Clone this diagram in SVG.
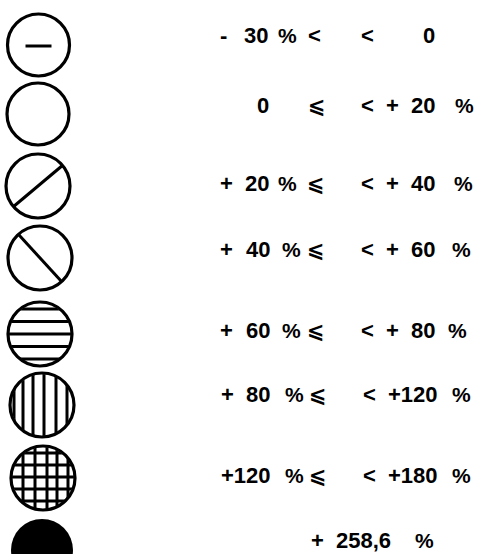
<svg xmlns="http://www.w3.org/2000/svg" width="482" height="554" viewBox="0 0 482 554">
<style>
.ring{fill:none;stroke:#000;stroke-width:3.2}
.hatch{stroke:#000;stroke-width:3;fill:none}
.t{font-family:"Liberation Sans",Arial,sans-serif;font-weight:bold;font-size:22px;fill:#000}
.p{font-family:"Liberation Sans",Arial,sans-serif;font-weight:bold;font-size:21px;fill:#000}
.le{font-family:"DejaVu Sans","Liberation Sans",sans-serif;font-weight:bold;font-size:21px;fill:#000}
</style>
<defs>
<clipPath id="c"><circle cx="0" cy="0" r="31"/></clipPath>
</defs>
<g id="connectors"/>
<g id="sym1" transform="translate(38.5,45)">
<line class="hatch" x1="-13" y1="1" x2="13" y2="1"/>
<circle class="ring" r="31"/>
</g>
<g id="sym2" transform="translate(38,114)">
<circle class="ring" r="31"/>
</g>
<g id="sym3" transform="translate(38,186)">
<line class="hatch" x1="-25" y1="21" x2="25" y2="-21"/>
<circle class="ring" r="32"/>
</g>
<g id="sym4" transform="translate(40,258)">
<line class="hatch" x1="-21" y1="-23" x2="22" y2="24"/>
<circle class="ring" r="32"/>
</g>
<g id="sym5" transform="translate(40,334)">
<g clip-path="url(#c)">
<line class="hatch" x1="-32" y1="-25" x2="32" y2="-25"/>
<line class="hatch" x1="-32" y1="-12.5" x2="32" y2="-12.5"/>
<line class="hatch" x1="-32" y1="0" x2="32" y2="0"/>
<line class="hatch" x1="-32" y1="12.5" x2="32" y2="12.5"/>
<line class="hatch" x1="-32" y1="25" x2="32" y2="25"/>
</g>
<circle class="ring" r="32"/>
</g>
<g id="sym6" transform="translate(42,405)">
<g clip-path="url(#c)">
<line class="hatch" x1="-28" y1="-32" x2="-28" y2="32"/>
<line class="hatch" x1="-19" y1="-32" x2="-19" y2="32"/>
<line class="hatch" x1="-9" y1="-32" x2="-9" y2="32"/>
<line class="hatch" x1="2" y1="-32" x2="2" y2="32"/>
<line class="hatch" x1="14" y1="-32" x2="14" y2="32"/>
<line class="hatch" x1="25" y1="-32" x2="25" y2="32"/>
</g>
<circle class="ring" r="32"/>
</g>
<g id="sym7" transform="translate(43,478)">
<g clip-path="url(#c)">
<line class="hatch" x1="-20" y1="-32" x2="-20" y2="32"/>
<line class="hatch" x1="-8" y1="-32" x2="-8" y2="32"/>
<line class="hatch" x1="4" y1="-32" x2="4" y2="32"/>
<line class="hatch" x1="14" y1="-32" x2="14" y2="32"/>
<line class="hatch" x1="25" y1="-32" x2="25" y2="32"/>
<line class="hatch" x1="-32" y1="-25" x2="32" y2="-25"/>
<line class="hatch" x1="-32" y1="-13" x2="32" y2="-13"/>
<line class="hatch" x1="-32" y1="-1" x2="32" y2="-1"/>
<line class="hatch" x1="-32" y1="11" x2="32" y2="11"/>
<line class="hatch" x1="-32" y1="23" x2="32" y2="23"/>
</g>
<circle class="ring" r="32" stroke-width="3.8"/>
</g>
<g id="sym8">
<circle cx="42" cy="550" r="31" fill="#000"/>
</g>
<g id="label1">
<text class="t" x="220" y="43">-</text>
<text class="t" x="244" y="43">30</text>
<text class="p" x="278" y="43">%</text>
<text class="t" x="308" y="43">&lt;</text>
<text class="t" x="361" y="43">&lt;</text>
<text class="t" x="423" y="43">0</text>
</g>
<g id="label2">
<text class="t" x="257" y="113">0</text>
<text class="le" x="308" y="113">⩽</text>
<text class="t" x="361" y="113">&lt;</text>
<text class="t" x="386" y="113">+</text>
<text class="t" x="411" y="113">20</text>
<text class="p" x="455" y="113">%</text>
</g>
<g id="label3">
<text class="t" x="220" y="191">+</text>
<text class="t" x="245" y="191">20</text>
<text class="p" x="278" y="191">%</text>
<text class="le" x="307" y="191">⩽</text>
<text class="t" x="361" y="191">&lt;</text>
<text class="t" x="386" y="191">+</text>
<text class="t" x="411" y="191">40</text>
<text class="p" x="454" y="191">%</text>
</g>
<g id="label4">
<text class="t" x="220" y="257">+</text>
<text class="t" x="246" y="257">40</text>
<text class="p" x="282" y="257">%</text>
<text class="le" x="307" y="257">⩽</text>
<text class="t" x="361" y="257">&lt;</text>
<text class="t" x="386" y="257">+</text>
<text class="t" x="411" y="257">60</text>
<text class="p" x="452" y="257">%</text>
</g>
<g id="label5">
<text class="t" x="220" y="338">+</text>
<text class="t" x="246" y="338">60</text>
<text class="p" x="282" y="338">%</text>
<text class="le" x="307" y="338">⩽</text>
<text class="t" x="361" y="338">&lt;</text>
<text class="t" x="386" y="338">+</text>
<text class="t" x="411" y="338">80</text>
<text class="p" x="448" y="338">%</text>
</g>
<g id="label6">
<text class="t" x="221" y="402">+</text>
<text class="t" x="246" y="402">80</text>
<text class="p" x="285" y="402">%</text>
<text class="le" x="309" y="402">⩽</text>
<text class="t" x="363" y="402">&lt;</text>
<text class="t" x="388" y="402">+120</text>
<text class="p" x="452" y="402">%</text>
</g>
<g id="label7">
<text class="t" x="221" y="483">+120</text>
<text class="p" x="285" y="483">%</text>
<text class="le" x="309" y="483">⩽</text>
<text class="t" x="363" y="483">&lt;</text>
<text class="t" x="388" y="483">+180</text>
<text class="p" x="452" y="483">%</text>
</g>
<g id="label8">
<text class="t" x="311" y="548">+</text>
<text class="t" x="336" y="548">258,6</text>
<text class="p" x="415" y="548">%</text>
</g>
</svg>
